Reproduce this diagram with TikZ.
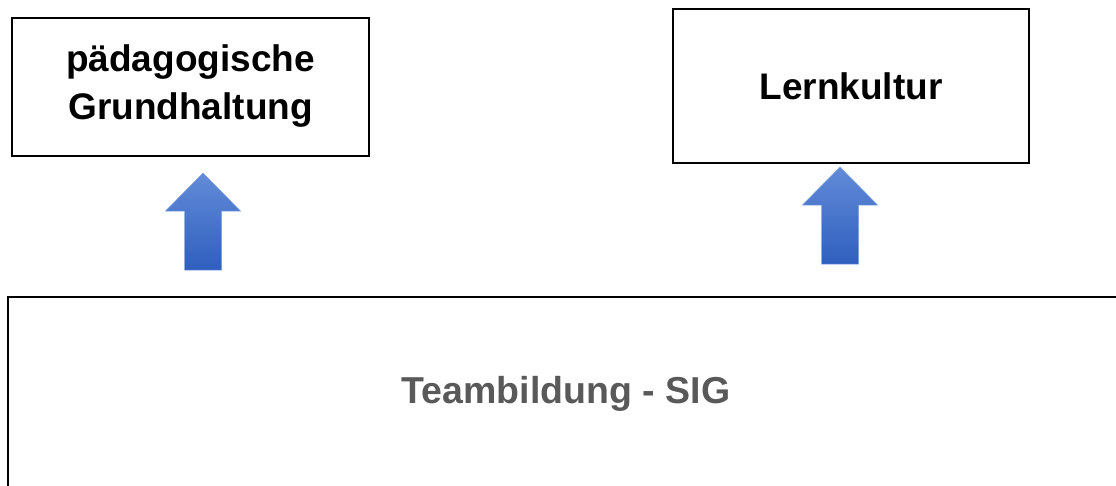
\documentclass[tikz,border=0pt]{standalone}
\usepackage{fontspec}
\setmainfont{Liberation Sans}
\usepackage{tikz}
\usetikzlibrary{positioning}
\definecolor{arrowtop}{RGB}{98,139,216}
\definecolor{arrowbot}{RGB}{47,95,190}
\definecolor{teamgrey}{RGB}{89,89,89}

\begin{document}
\begin{tikzpicture}
    [   x = 1pt
    ,   y = -1pt
    ,   topic/.style =
        {   draw
        ,   line width = 2pt
        ,   inner sep = 0mm
        ,   align = center
        ,   font = \fontsize{37}{48}\selectfont\bfseries
        }
    ,   uparrow/.style =
        {   top color = arrowtop
        ,   bottom color = arrowbot
        ,   draw = arrowtop!80
        ,   line width = 0.5pt
        }
    ]
    \useasboundingbox (0,0) rectangle (1116,485);
    \clip (0,0) rectangle (1116,485);
    \node[topic, minimum width = 357pt, minimum height = 138pt]
        (haltung) at (190.5,86.5) {pädagogische\\Grundhaltung};
    \node[topic, minimum width = 356pt, minimum height = 154pt]
        (kultur) at (851,86) {Lernkultur};
    \draw[line width = 2.2pt] (1130,297) -- (8,297) -- (8,500);
    \node[font = \fontsize{37.5}{48}\selectfont\bfseries, text = teamgrey]
        (team) at (566,394) {Teambildung - SIG};
    % block arrows from the team box up to the two topics
    \foreach\cx/\tip in {203/173, 840/167}
    {   \path[uparrow]
            (\cx-18.5,\tip+97) -- (\cx-18.5,\tip+38) -- (\cx-37.5,\tip+38)
            -- (\cx,\tip) -- (\cx+37.5,\tip+38) -- (\cx+18.5,\tip+38)
            -- (\cx+18.5,\tip+97) -- cycle;
    }
\end{tikzpicture}
\end{document}
